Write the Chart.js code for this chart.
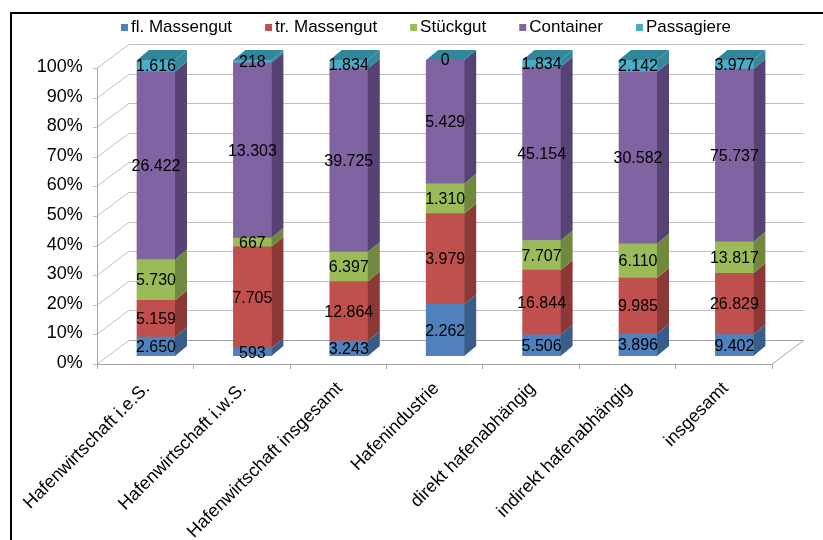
<!DOCTYPE html>
<html>
<head>
<meta charset="utf-8">
<script src="https://cdn.jsdelivr.net/npm/chart.js@4/dist/chart.umd.min.js"></script>
<style>
  html, body { margin: 0; padding: 0; background: #fff; overflow: hidden; }
  #wrap { position: relative; width: 823px; height: 540px; overflow: hidden; }
  #frame { position: absolute; left: 10px; top: 12px; width: 900px; height: 600px;
           border-left: 2px solid #000; border-top: 2px solid #000; pointer-events: none; }
</style>
</head>
<body>
<div id="wrap">
  <canvas id="c" width="823" height="540"></canvas>
  <div id="frame"></div>
</div>
<script>
// Umschlag nach Ladungsart (in 1.000 t) je Abgrenzung
const categories = [
  'Hafenwirtschaft i.e.S.',
  'Hafenwirtschaft i.w.S.',
  'Hafenwirtschaft insgesamt',
  'Hafenindustrie',
  'direkt hafenabhängig',
  'indirekt hafenabhängig',
  'insgesamt'
];
const seriesNames = ['fl. Massengut', 'tr. Massengut', 'Stückgut', 'Container', 'Passagiere'];
const flMassengut = [2650, 593, 3243, 2262, 5506, 3896, 9402];
const trMassengut = [5159, 7705, 12864, 3979, 16844, 9985, 26829];
const stueckgut   = [5730, 667, 6397, 1310, 7707, 6110, 13817];
const container   = [26422, 13303, 39725, 5429, 45154, 30582, 75737];
const passagiere  = [1616, 218, 1834, 0, 1834, 2142, 3977];
const yTickValues = [0, 10, 20, 30, 40, 50, 60, 70, 80, 90, 100];

const frontColors = ['#4F81BD', '#C0504D', '#9BBB59', '#8064A2', '#4BACC6'];
const sideColors  = ['#385D8A', '#8C3836', '#71893F', '#574373', '#33889D'];
const topColor    = '#31869B';

const FONT = "'Liberation Sans', Arial, sans-serif";
const DX = 12, DY = 10;              // bar depth
const FRONT_X = -11, FRONT_Y = 8;    // front edge of floor / side wall
const BACK_X = 21, BACK_Y = -16;     // back wall

const raw = [flMassengut, trMassengut, stueckgut, container, passagiere];
const totals = categories.map((_, i) => raw.reduce((s, arr) => s + arr[i], 0));

const fmt = n => String(n).replace(/\B(?=(\d{3})+(?!\d))/g, '.');

// back wall, side wall and floor
const walls = {
  id: 'walls',
  beforeDatasetsDraw(chart) {
    const { ctx, chartArea: a, scales: { x: xs, y: ys } } = chart;
    const fl = a.left + FRONT_X, fr = a.right + FRONT_X;
    const bl = a.left + BACK_X, br = a.right + BACK_X;
    ctx.save();
    ctx.lineWidth = 1;
    ctx.strokeStyle = '#BFBFBF';
    yTickValues.forEach(v => {
      const p = ys.getPixelForValue(v);
      ctx.beginPath();
      ctx.moveTo(fl - 4, Math.round(p + FRONT_Y) + 0.5);
      ctx.lineTo(fl, Math.round(p + FRONT_Y) + 0.5);
      ctx.lineTo(bl, Math.round(p + BACK_Y) + 0.5);
      if (v > 0) ctx.lineTo(br, Math.round(p + BACK_Y) + 0.5);
      ctx.stroke();
    });
    // left axis edge
    const p0 = ys.getPixelForValue(0), p1 = ys.getPixelForValue(100);
    ctx.strokeStyle = '#A6A6A6';
    ctx.beginPath();
    ctx.moveTo(Math.round(fl) + 0.5, p1 + FRONT_Y);
    ctx.lineTo(Math.round(fl) + 0.5, p0 + FRONT_Y);
    ctx.stroke();
    // floor
    ctx.beginPath();
    ctx.moveTo(bl, Math.round(p0 + BACK_Y) + 0.5);
    ctx.lineTo(br, Math.round(p0 + BACK_Y) + 0.5);
    ctx.lineTo(fr, Math.round(p0 + FRONT_Y) + 0.5);
    ctx.lineTo(fl, Math.round(p0 + FRONT_Y) + 0.5);
    ctx.stroke();
    // category ticks
    const step = xs.getPixelForValue(1) - xs.getPixelForValue(0);
    const start = xs.getPixelForValue(0) - step / 2 + FRONT_X;
    for (let i = 0; i <= categories.length; i++) {
      const tx = Math.round(start + i * step) + 0.5;
      ctx.beginPath();
      ctx.moveTo(tx, p0 + FRONT_Y);
      ctx.lineTo(tx, p0 + FRONT_Y + 5);
      ctx.stroke();
    }
    ctx.restore();
  }
};

// side and top faces of the stacked columns
const bar3d = {
  id: 'bar3d',
  afterDatasetsDraw(chart) {
    const ctx = chart.ctx;
    const n = chart.data.datasets.length;
    ctx.save();
    chart.data.datasets.forEach((ds, di) => {
      chart.getDatasetMeta(di).data.forEach(bar => {
        const { x, y, base, width } = bar.getProps(['x', 'y', 'base', 'width'], true);
        const l = x - width / 2, r = x + width / 2;
        ctx.fillStyle = sideColors[di];
        ctx.beginPath();
        ctx.moveTo(r, y); ctx.lineTo(r + DX, y - DY);
        ctx.lineTo(r + DX, base - DY); ctx.lineTo(r, base);
        ctx.closePath(); ctx.fill();
        if (di === n - 1) {
          ctx.fillStyle = topColor;
          ctx.beginPath();
          ctx.moveTo(l, y); ctx.lineTo(l + DX, y - DY);
          ctx.lineTo(r + DX, y - DY); ctx.lineTo(r, y);
          ctx.closePath(); ctx.fill();
        }
      });
    });
    ctx.restore();
  }
};

// value labels centred on each segment
const valueLabels = {
  id: 'valueLabels',
  afterDatasetsDraw(chart) {
    const ctx = chart.ctx;
    ctx.save();
    ctx.font = '16px ' + FONT;
    ctx.fillStyle = '#000';
    ctx.textAlign = 'center';
    ctx.textBaseline = 'middle';
    chart.data.datasets.forEach((ds, di) => {
      chart.getDatasetMeta(di).data.forEach((bar, i) => {
        const { x, y, base } = bar.getProps(['x', 'y', 'base'], true);
        ctx.fillText(fmt(raw[di][i]), x, (y + base) / 2 + 1);
      });
    });
    ctx.restore();
  }
};

// legend row above the plot
const legendRow = {
  id: 'legendRow',
  afterDraw(chart) {
    const ctx = chart.ctx;
    ctx.save();
    ctx.font = '17px ' + FONT;
    ctx.textBaseline = 'middle';
    const box = 7, gapText = 3, gapItem = 33, cy = 27.5;
    const items = chart.data.datasets.map(ds => ({ label: ds.label, color: ds.backgroundColor, w: ctx.measureText(ds.label).width }));
    const total = items.reduce((s, it) => s + box + gapText + it.w, 0) + gapItem * (items.length - 1);
    let x = 426 - total / 2;
    items.forEach(it => {
      ctx.fillStyle = it.color;
      ctx.fillRect(x, cy - box / 2, box, box);
      ctx.fillStyle = '#000';
      ctx.fillText(it.label, x + box + gapText, cy);
      x += box + gapText + it.w + gapItem;
    });
    ctx.restore();
  }
};

const datasets = raw.map((arr, di) => ({
  label: seriesNames[di],
  data: arr.map((v, i) => v / totals[i] * 100),
  backgroundColor: frontColors[di],
  borderWidth: 0,
  barThickness: 38
}));

new Chart(document.getElementById('c'), {
  type: 'bar',
  data: { labels: categories, datasets },
  options: {
    responsive: false,
    animation: false,
    layout: { padding: { left: 0, right: 40.4, top: 60, bottom: 0 } },
    plugins: { legend: { display: false }, tooltip: { enabled: false } },
    scales: {
      x: {
        stacked: true,
        grid: { display: false, drawTicks: false },
        border: { display: false },
        ticks: {
          autoSkip: false, maxRotation: 45, minRotation: 45,
          padding: 22, labelOffset: -9,
          color: '#000', font: { family: FONT, size: 18 }
        },
        afterFit(s) { s.height = 184; }
      },
      y: {
        stacked: true, min: 0, max: 100,
        grid: { display: false, drawTicks: false },
        border: { display: false },
        ticks: {
          stepSize: 10, padding: 25, labelOffset: 7,
          color: '#000', font: { family: FONT, size: 18 },
          callback: v => v + '%'
        },
        afterFit(s) { s.width = 107.8; }
      }
    }
  },
  plugins: [walls, bar3d, valueLabels, legendRow]
});
</script>
</body>
</html>
